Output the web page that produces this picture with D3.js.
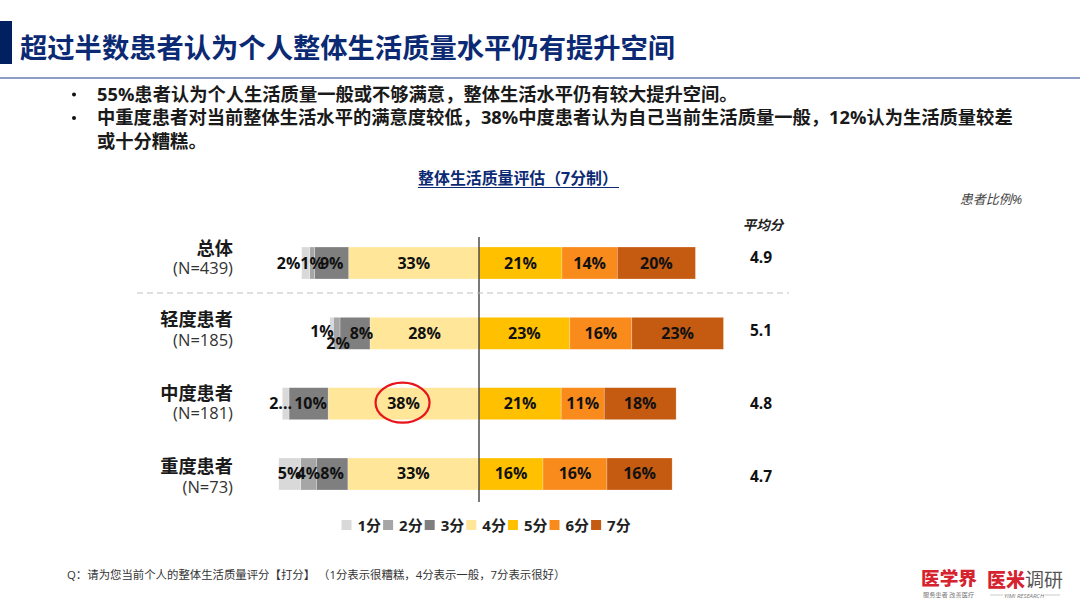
<!DOCTYPE html>
<html>
<head>
<meta charset="utf-8">
<script src="https://cdn.jsdelivr.net/npm/d3@7"></script>
<style>
body { margin: 0; background: #fff; }
svg { display: block; }
text { font-family: "Open Sans", "Noto Sans CJK SC", sans-serif; }
</style>
</head>
<body>
<div id="chart"></div>
<script>
// values (%), labels round them
var categories = ["总体", "轻度患者", "中度患者", "重度患者"]
var sampleSizes = ["(N=439)", "(N=185)", "(N=181)", "(N=73)"]
var averages = ["4.9", "5.1", "4.8", "4.7"]
var scores = ["1分", "2分", "3分", "4分", "5分", "6分", "7分"]
var colors = ["#d9d9d9", "#a6a6a6", "#7f7f7f", "#ffe699", "#ffc000", "#f98b1d", "#c55a11"]

var score1 = [2.0, 0.9, 1.7, 5.49]
var score2 = [1.3, 1.7, 0, 4.0]
var score3 = [8.6, 7.6, 9.9, 8.0]
var score4 = [33, 27.6, 38.2, 33.2]
var score5 = [21, 23, 20.8, 16.2]
var score6 = [14, 15.7, 10.9, 16.2]
var score7 = [19.8, 23.2, 18.2, 16.49]
var series = [score1, score2, score3, score4, score5, score6, score7]

var bullets = [
    "55%患者认为个人生活质量一般或不够满意，整体生活水平仍有较大提升空间。",
    "中重度患者对当前整体生活水平的满意度较低，38%中度患者认为自己当前生活质量一般，12%认为生活质量较差",
    "或十分糟糕。"
]

var width = 1080, height = 611
var navy = "#0b2a73"

var svg = d3.select("#chart").append("svg")
    .attr("width", width)
    .attr("height", height)

// header
svg.append("rect").attr("x", 0).attr("y", 21).attr("width", 12).attr("height", 43).attr("fill", "#002060")
svg.append("text").attr("x", 20).attr("y", 57.5)
    .attr("font-size", 27.3).attr("font-weight", 700).attr("fill", navy)
    .text("超过半数患者认为个人整体生活质量水平仍有提升空间")
svg.append("line").attr("x1", 0).attr("x2", width).attr("y1", 78).attr("y2", 78)
    .attr("stroke", "#1f3d8c").attr("stroke-width", 1)

// bullets
var bulletY = [100.5, 124, 147.5]
bullets.forEach(function (b, i) {
    svg.append("text").attr("x", 97).attr("y", bulletY[i])
        .attr("font-size", 18.3).attr("font-weight", 700).attr("fill", "#1a1a1a")
        .text(b)
})
d3.range(2).forEach(function (i) {
    svg.append("circle").attr("cx", 74).attr("cy", bulletY[i] - 6).attr("r", 2).attr("fill", "#111")
})

// chart titles
svg.append("text").attr("x", 518).attr("y", 184).attr("text-anchor", "middle")
    .attr("font-size", 15.9).attr("font-weight", 700).attr("fill", navy)
    .text("整体生活质量评估（7分制）")
svg.append("line").attr("x1", 418).attr("x2", 619).attr("y1", 187.5).attr("y2", 187.5)
    .attr("stroke", navy).attr("stroke-width", 1.2)
svg.append("text").attr("x", 1022).attr("y", 204).attr("text-anchor", "end")
    .attr("font-size", 13).attr("font-style", "italic").attr("fill", "#444")
    .text("患者比例%")
svg.append("text").attr("x", 763).attr("y", 230).attr("text-anchor", "middle")
    .attr("font-size", 13.5).attr("font-style", "italic").attr("font-weight", 700).attr("fill", "#222")
    .text("平均分")

// scales
var x = d3.scaleLinear().domain([-50, 70]).range([281.5, 755.5])
var y = d3.scaleBand().domain(categories).range([227.8, 509.2]).paddingInner(0.545).paddingOuter(0.273)

// stack outward from the zero line: 4分 to 1分 left, 5分 to 7分 right
var segments = []
categories.forEach(function (cat, c) {
    var left = 0, right = 0
    d3.range(3, -1, -1).forEach(function (s) {
        var v = series[s][c]
        segments.push({ cat: cat, c: c, s: s, v: v, x0: left - v, x1: left })
        left -= v
    })
    d3.range(4, 7).forEach(function (s) {
        var v = series[s][c]
        segments.push({ cat: cat, c: c, s: s, v: v, x0: right, x1: right + v })
        right += v
    })
})
segments = segments.filter(function (d) { return d.v > 0 })

svg.selectAll("rect.seg")
    .data(segments)
    .enter().append("rect")
    .attr("class", "seg")
    .attr("x", function (d) { return x(d.x0) })
    .attr("width", function (d) { return x(d.x1) - x(d.x0) })
    .attr("y", function (d) { return y(d.cat) })
    .attr("height", y.bandwidth())
    .attr("fill", function (d) { return colors[d.s] })
    .attr("stroke", "#fff")
    .attr("stroke-opacity", 0.5)
    .attr("stroke-width", 0.5)

// small slices had their labels shoved around in the source, same here
var nudges = {
    "0-0": [-17, 0], "1-0": [-9.5, -2], "1-1": [1.5, 10.5], "1-2": [6.5, 0],
    "2-0": [-5, 0], "2-2": [2, 0]
}
function labelText(d) {
    if (d.c === 2 && d.s === 0) return "2..."
    return Math.round(d.v) + "%"
}

// low scores first so the 3分 labels sit on top where they collide
svg.selectAll("text.val")
    .data(segments.slice().sort(function (a, b) { return a.s - b.s }))
    .enter().append("text")
    .attr("class", "val")
    .attr("text-anchor", "middle")
    .attr("dominant-baseline", "central")
    .attr("font-size", 16)
    .attr("font-weight", 700)
    .attr("fill", "#111")
    .attr("x", function (d) {
        var n = nudges[d.c + "-" + d.s]
        return x((d.x0 + d.x1) / 2) + (n ? n[0] : 0)
    })
    .attr("y", function (d) {
        var n = nudges[d.c + "-" + d.s]
        return y(d.cat) + y.bandwidth() / 2 - 0.5 + (n ? n[1] : 0)
    })
    .text(labelText)

// zero line and the divider under the total row
svg.append("line").attr("x1", x(0)).attr("x2", x(0)).attr("y1", 237).attr("y2", 502)
    .attr("stroke", "#404040").attr("stroke-width", 1.4)
svg.append("line").attr("x1", 137).attr("x2", 789).attr("y1", 293).attr("y2", 293)
    .attr("stroke", "#bfbfbf").attr("stroke-width", 1).attr("stroke-dasharray", "6 4")

// highlight on the 38%
svg.append("ellipse")
    .attr("cx", x(-score4[2] / 2) - 1)
    .attr("cy", y("中度患者") + y.bandwidth() / 2 - 1)
    .attr("rx", 27).attr("ry", 20)
    .attr("fill", "none").attr("stroke", "#e8141c").attr("stroke-width", 2.2)

// row labels, the text boxes drift from the bar centres going down the page
var nameShift = [-15, -14.5, -11, -8]
var sizeShift = [4, 6.5, 9, 13]
var averageShift = [-6, -3.5, -1, 2]
categories.forEach(function (cat, i) {
    var cy = y(cat) + y.bandwidth() / 2
    svg.append("text").attr("x", 233).attr("y", cy + nameShift[i])
        .attr("text-anchor", "end").attr("dominant-baseline", "central")
        .attr("font-size", 18.2).attr("font-weight", 700).attr("fill", "#1a1a1a")
        .text(cat)
    svg.append("text").attr("x", 233).attr("y", cy + sizeShift[i])
        .attr("text-anchor", "end").attr("dominant-baseline", "central")
        .attr("font-size", 16.5).attr("fill", "#333")
        .text(sampleSizes[i])
    svg.append("text").attr("x", 761).attr("y", cy + averageShift[i])
        .attr("text-anchor", "middle").attr("dominant-baseline", "central")
        .attr("font-size", 15.5).attr("font-weight", 700).attr("fill", "#111")
        .text(averages[i])
})

// legend
var legend = svg.selectAll("g.legend")
    .data(scores)
    .enter().append("g")
    .attr("class", "legend")
    .attr("transform", function (d, i) { return "translate(" + (341.5 + i * 41.6) + ",520)" })
legend.append("rect").attr("width", 10).attr("height", 10)
    .attr("fill", function (d, i) { return colors[i] })
legend.append("text").attr("x", 16).attr("y", 10.5)
    .attr("font-size", 15).attr("font-weight", 700).attr("fill", "#222")
    .text(function (d) { return d })

// footnote
svg.append("text").attr("x", 67).attr("y", 579)
    .attr("font-size", 11.4).attr("fill", "#333")
    .text("Q：请为您当前个人的整体生活质量评分【打分】 （1分表示很糟糕，4分表示一般，7分表示很好）")

// logos
svg.append("text").attr("x", 921).attr("y", 585)
    .attr("font-size", 18.7).attr("font-weight", 900).attr("fill", "#d5232f").text("医学界")
svg.append("text").attr("x", 923).attr("y", 597)
    .attr("font-size", 6.2).attr("fill", "#777").text("服务患者 改善医疗")
svg.append("text").attr("x", 987).attr("y", 587)
    .attr("font-size", 19).attr("font-weight", 900).attr("fill", "#d5232f").text("医米")
svg.append("text").attr("x", 1025).attr("y", 587)
    .attr("font-size", 19).attr("fill", "#555").text("调研")
svg.append("text").attr("x", 1024).attr("y", 597.5).attr("text-anchor", "middle")
    .attr("font-size", 6).attr("font-style", "italic").attr("fill", "#777").text("YIMI RESEARCH")
svg.append("line").attr("x1", 990).attr("x2", 1003).attr("y1", 595).attr("y2", 595).attr("stroke", "#aaa").attr("stroke-width", 0.6)
svg.append("line").attr("x1", 1045).attr("x2", 1060).attr("y1", 595).attr("y2", 595).attr("stroke", "#aaa").attr("stroke-width", 0.6)
</script>
</body>
</html>
